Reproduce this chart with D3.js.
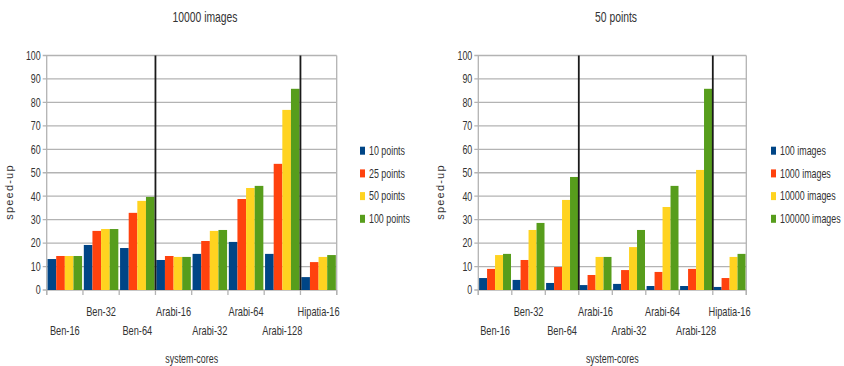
<!DOCTYPE html>
<html><head><meta charset="utf-8">
<script src="https://cdn.jsdelivr.net/npm/d3@7"></script>
<style>
body{margin:0;background:#fff;}
text{font-family:"Liberation Sans Narrow","Liberation Sans",Arial,sans-serif;fill:#333;}
</style></head>
<body><svg id="c" width="844" height="366"></svg>
<script>
const categories = ["Ben-16","Ben-32","Ben-64","Arabi-16","Arabi-32","Arabi-64","Arabi-128","Hipatia-16"];
const yTicks = [0,10,20,30,40,50,60,70,80,90,100];
const colors = ["#004586","#ff420e","#ffd320","#579d1c"];

const leftTitle = "10000 images";
const leftSeriesNames = ["10 points","25 points","50 points","100 points"];
const left10 = [13.2,19.2,17.9,12.8,15.4,20.5,15.4,5.5];
const left25 = [14.5,25.2,32.9,14.5,20.9,38.8,53.8,11.9];
const left50 = [14.5,26.0,38.0,14.1,25.2,43.5,76.8,14.1];
const left100 = [14.5,26.0,39.7,14.1,25.6,44.4,85.8,14.9];

const rightTitle = "50 points";
const rightSeriesNames = ["100 images","1000 images","10000 images","100000 images"];
const right100 = [5.1,4.3,3.0,2.1,2.6,1.7,1.7,1.3];
const right1000 = [9.0,12.8,9.8,6.4,8.5,7.7,9.0,5.1];
const right10000 = [14.9,25.6,38.4,14.1,18.3,35.4,51.2,14.1];
const right100000 = [15.4,28.6,48.2,14.1,25.6,44.4,85.8,15.4];

const separatorsAfter = ["Ben-64","Arabi-128"];

const svg = d3.select("#c");
const SX = 0.74;

function txt(g, x, y, s, size, anchor){
  return g.append("text")
    .attr("transform",`translate(${x},${y}) scale(${SX},1)`)
    .attr("text-anchor",anchor||"start")
    .attr("font-size",size).text(s);
}

function drawChart(cfg){
  const g = svg.append("g");
  const x = d3.scaleBand().domain(categories).range([cfg.x0,cfg.x1]).paddingInner(0).paddingOuter(0);
  const y = d3.scaleLinear().domain([0,100]).range([290,55.5]);
  const inner = d3.scaleBand().domain(d3.range(4)).range([0,x.bandwidth()]).paddingOuter(0.1).paddingInner(0);
  // gridlines
  g.append("g").selectAll("line").data(yTicks).join("line")
    .attr("x1",cfg.x0-4).attr("x2",cfg.x1)
    .attr("y1",d=>y(d)).attr("y2",d=>y(d))
    .attr("stroke","#b3b3b3").attr("stroke-width",1.3);
  // right border and left axis
  [cfg.x0,cfg.x1].forEach(xx=>{
    g.append("line").attr("x1",xx).attr("x2",xx).attr("y1",y(100)).attr("y2",y(0)+5)
      .attr("stroke","#b3b3b3").attr("stroke-width",1.3);
  });
  // bars
  cfg.series.forEach((vals,si)=>{
    g.append("g").selectAll("rect").data(vals).join("rect")
      .attr("x",(d,i)=>x(categories[i])+inner(si))
      .attr("width",inner.bandwidth())
      .attr("y",d=>y(d))
      .attr("height",d=>y(0)-y(d))
      .attr("fill",colors[si]);
  });
  // y tick labels
  yTicks.forEach(t=>txt(g,cfg.x0-6,y(t)+4.3,String(t),12,"end"));
  // x axis ticks at band boundaries
  const bounds = categories.map(c=>x(c)).concat([cfg.x1]);
  g.append("g").selectAll("line").data(bounds).join("line")
    .attr("x1",d=>d).attr("x2",d=>d).attr("y1",290).attr("y2",295)
    .attr("stroke","#b3b3b3").attr("stroke-width",1.3);
  // x labels staggered
  categories.forEach((c,i)=>txt(g,x(c)+x.bandwidth()/2, i%2===0 ? 335 : 316, c, 12.5, "middle"));
  // separators
  separatorsAfter.forEach(c=>{
    const xs = x(c)+x.bandwidth();
    g.append("line").attr("x1",xs).attr("x2",xs).attr("y1",y(100)).attr("y2",y(0))
      .attr("stroke","#1a1a1a").attr("stroke-width",1.8);
  });
  // title
  txt(g,cfg.titleX,22,cfg.title,14,"middle");
  // axis titles
  txt(g,(cfg.x0+cfg.x1)/2,363,"system-cores",12,"middle");
  g.append("text").attr("transform",`translate(${cfg.ylx},${192}) rotate(-90)`)
    .attr("text-anchor","middle").attr("font-size",11)
    .style("font-family",'"Liberation Sans","DejaVu Sans",sans-serif').style("letter-spacing","1.2px")
    .text("speed-up");
  // legend
  cfg.names.forEach((n,i)=>{
    const ly = 150.7 + i*22.7;
    g.append("rect").attr("x",cfg.legX).attr("y",ly-4).attr("width",5).attr("height",8).attr("fill",colors[i]);
    txt(g,cfg.legX+9,ly+4.3,n,12,"start");
  });
}

drawChart({x0:46.7,x1:336.7,title:leftTitle,titleX:205,ylx:13,legX:360,names:leftSeriesNames,
  series:[left10,left25,left50,left100]});
drawChart({x0:478.3,x1:746.3,title:rightTitle,titleX:616,ylx:444,legX:771,names:rightSeriesNames,
  series:[right100,right1000,right10000,right100000]});
</script></body></html>
